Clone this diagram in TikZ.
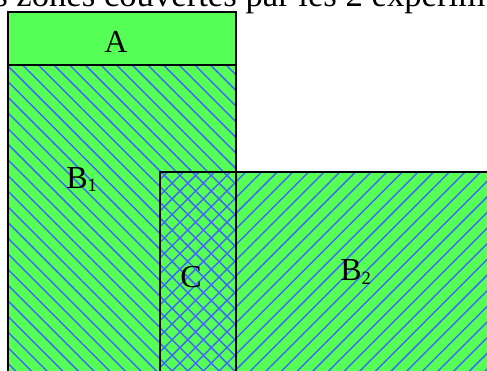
\documentclass[tikz,border=0pt]{standalone}
\usepackage{fontspec}
\setmainfont{Liberation Serif}
\usepackage{xcolor}
\usepackage{tikz}
\usetikzlibrary{patterns.meta,positioning}
\definecolor{zonegreen}{RGB}{85,255,85}
\definecolor{hatchblue}{RGB}{65,105,245}
\tikzset{
    zone/.style={fill=zonegreen},
    zoneborder/.style={draw=black, line width=1.1pt},
    hatchnw/.style={pattern={Lines[angle=-45,distance=8.3pt,line width=1.1pt]}, pattern color=hatchblue},
    hatchne/.style={pattern={Lines[angle=45,distance=8.3pt,line width=1.1pt]}, pattern color=hatchblue},
    zonelabel/.style={font=\fontsize{24}{24}\selectfont, inner sep=0pt, anchor=base west},
}
\newcommand{\zsub}[1]{\raisebox{-2.5pt}{\fontsize{14}{14}\selectfont #1}}

\begin{document}
\begin{tikzpicture}[x=0.75pt, y=-0.75pt]
        \useasboundingbox (0,0) rectangle (487,371);
        \fill[zone] (8,12) rectangle (236,65);
        \fill[zone] (8,65) rectangle (236,390);
        \fill[zone] (160,172) rectangle (500,390);
        \fill[hatchnw] (8,65) rectangle (236,390);
        \fill[hatchne] (160,172) rectangle (500,390);
        \draw[zoneborder] (8,12) rectangle (236,65);
        \draw[zoneborder] (8,65) rectangle (236,390);
        \draw[zoneborder] (160,172) rectangle (500,390);
        \node[zonelabel, font=\fontsize{26}{26}\selectfont] (title) at (-6,7) {s zones couvertes par les 2 expérim};
        \node[zonelabel] (labelA) at (104,52.3) {A};
        \node[zonelabel] (labelB1) at (66,188.3) {B\zsub{1}};
        \node[zonelabel] (labelC) at (180,287) {C};
        \node[zonelabel] (labelB2) at (340,280.7) {B\zsub{2}};
    \end{tikzpicture}
\end{document}
